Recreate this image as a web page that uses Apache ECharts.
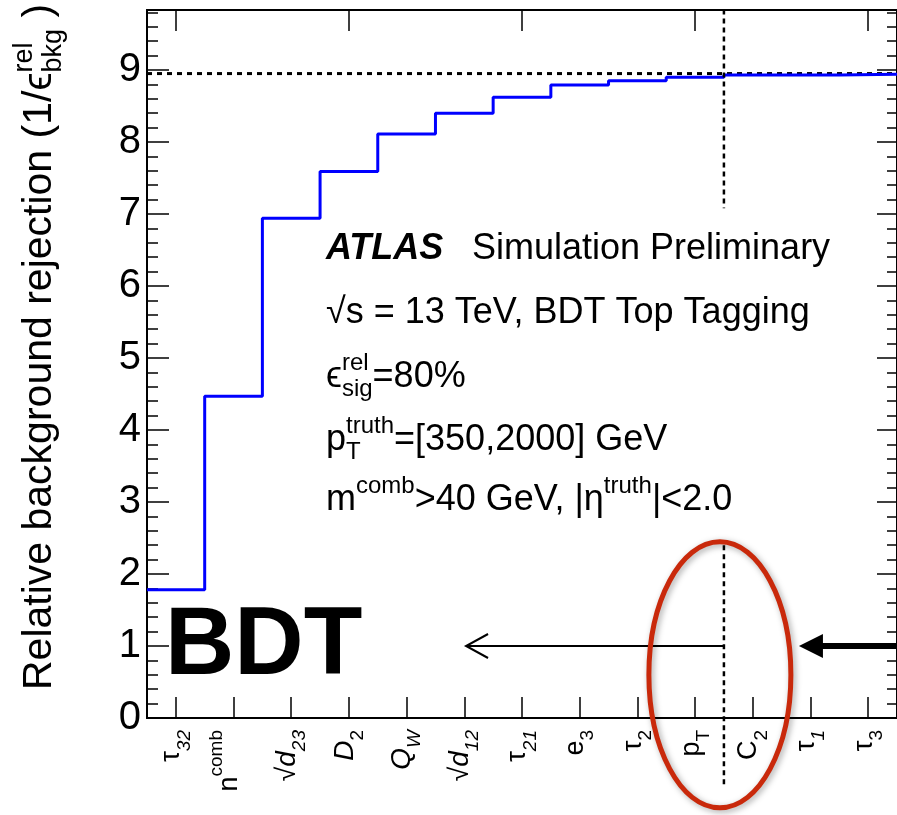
<!DOCTYPE html>
<html><head><meta charset="utf-8">
<script src="https://cdn.jsdelivr.net/npm/echarts@6/dist/echarts.min.js"></script>
<style>html,body{margin:0;padding:0;background:#fff}#c{width:897px;height:815px}</style>
</head><body><div id="c"></div>
<script>
// ---------------- data ----------------
const tickLabels = [
  '{m|τ}{subi|32}', '{m|n}{sup|comb}', '{m|√}{mi|d}{subi|23}', '{mi|D}{sub|2}',
  '{mi|Q}{subi|W}', '{m|√}{mi|d}{subi|12}', '{m|τ}{subi|21}', '{m|e}{sub|3}',
  '{m|τ}{sub|2}', '{m|p}{sub|T}', '{m|C}{sub|2}', '{m|τ}{subi|1}', '{m|τ}{sub|3}'
];
const rejection = [1.78, 4.47, 6.94, 7.59, 8.11, 8.40, 8.62, 8.79, 8.85, 8.90, 8.93, 8.93, 8.94];
const yTicks = [0, 1, 2, 3, 4, 5, 6, 7, 8, 9];
const referenceLevel = 8.95;          // dotted horizontal line
const cutEdge = 10;                   // bin edge of the dashed vertical line
const cutSegments = [[9.84, 7.08], [2.40, -0.97]];
const thinArrow = {from: [10, 1], to: [5.53, 1]};
const thickArrow = {from: [13, 1], to: [11.30, 1]};
const ellipseCenter = [9.93, 0.60];

const FAMILY = '"Liberation Sans", Arial, Helvetica, sans-serif';
const Y_MAX = 9.833;

// step histogram points from bin values
const stepPoints = rejection.map((v, i) => [i, v]);
stepPoints.push([rejection.length, rejection[rejection.length - 1]]);

const chart = echarts.init(document.getElementById('c'), null, {renderer: 'canvas'});

const labelRich = {
  m:   {fontSize: 27, lineHeight: 44, fontFamily: FAMILY, color: '#000'},
  mi:  {fontSize: 28, lineHeight: 44, fontFamily: FAMILY, color: '#000', fontStyle: 'italic'},
  sub: {fontSize: 19, lineHeight: 22, fontFamily: FAMILY, color: '#000', verticalAlign: 'bottom'},
  subi:{fontSize: 19, lineHeight: 22, fontFamily: FAMILY, color: '#000', verticalAlign: 'bottom', fontStyle: 'italic'},
  sup: {fontSize: 19, lineHeight: 22, fontFamily: FAMILY, color: '#000', verticalAlign: 'top'}
};

function yAx(pos, interval, len, labels) {
  return {
    type: 'value', position: pos, min: 0, max: Y_MAX, interval: interval,
    axisLine: {show: true, onZero: false, lineStyle: {color: '#000', width: 2}},
    axisTick: {show: true, inside: true, length: len, lineStyle: {color: '#000', width: 1.5}},
    axisLabel: labels ? {show: true, fontSize: 40, fontFamily: FAMILY, color: '#000', margin: 6,
      showMaxLabel: false, formatter: v => (yTicks.indexOf(v) >= 0 ? String(v) : '')} : {show: false},
    splitLine: {show: false}, minorTick: {show: false}, minorSplitLine: {show: false}
  };
}

chart.setOption({
  animation: false,
  backgroundColor: '#fff',
  grid: {left: 147, right: 0, top: 10, bottom: 97, containLabel: false, outerBoundsMode: 'none'},
  xAxis: [
    {type: 'value', min: 0, max: 13, show: false, position: 'bottom'},
    {type: 'category', position: 'bottom', data: tickLabels, boundaryGap: true,
      axisLine: {show: true, onZero: false, lineStyle: {color: '#000', width: 2}},
      axisTick: {show: true, inside: true, length: 21, alignWithLabel: true, lineStyle: {color: '#000', width: 1.5}},
      axisLabel: {show: true, rotate: 90, margin: 12, interval: 0, padding: [0, 0, 8, 0], rich: labelRich, formatter: v => v},
      splitLine: {show: false}},
    {type: 'category', position: 'top', data: tickLabels, boundaryGap: true,
      axisLine: {show: true, onZero: false, lineStyle: {color: '#000', width: 2}},
      axisTick: {show: true, inside: true, length: 21, alignWithLabel: true, lineStyle: {color: '#000', width: 1.5}},
      axisLabel: {show: false}, splitLine: {show: false}}
  ],
  yAxis: [
    yAx('left', 1, 22, true),
    yAx('left', 0.2, 11, false),
    yAx('right', 1, 20, false),
    yAx('right', 0.2, 10, false)
  ],
  series: [
    {type: 'line', xAxisIndex: 0, yAxisIndex: 0, silent: true, symbol: 'none', z: 3,
      data: [[0, referenceLevel], [13, referenceLevel]],
      lineStyle: {color: '#000', width: 3, type: [5, 5]}},
    {type: 'line', xAxisIndex: 0, yAxisIndex: 0, silent: true, symbol: 'none', step: 'end', z: 4,
      data: stepPoints, lineStyle: {color: '#0000ff', width: 3}},
    ...cutSegments.map(s => ({type: 'line', xAxisIndex: 0, yAxisIndex: 0, silent: true, symbol: 'none',
      clip: false, z: 5, data: [[cutEdge, s[0]], [cutEdge, s[1]]],
      lineStyle: {color: '#000', width: 2.5, type: [5, 4]}}))
  ]
});

// ---------------- annotations ----------------
const cv = document.createElement('canvas').getContext('2d');
function measure(t, size, weight, style) {
  cv.font = `${style || 'normal'} ${weight || 'normal'} ${size}px ${FAMILY}`;
  return cv.measureText(t).width;
}
function txt(x, y, t, size, weight, style) {
  return {type: 'text', x: x, y: y, silent: true, z: 20,
    style: {text: t, fontSize: size, fontFamily: FAMILY, fontWeight: weight || 'normal',
      fontStyle: style || 'normal', fill: '#000', align: 'left', verticalAlign: 'middle'}};
}
function run(x, y, parts, size) {
  const els = []; let cx = x; const small = Math.round(size * 0.66);
  parts.forEach(p => {
    if (p.sup !== undefined || p.sub !== undefined) {
      let w = 0;
      if (p.sup !== undefined) { els.push(txt(cx, y - size * 0.38, p.sup, small)); w = Math.max(w, measure(p.sup, small)); }
      if (p.sub !== undefined) { els.push(txt(cx, y + size * 0.33, p.sub, small)); w = Math.max(w, measure(p.sub, small)); }
      cx += w;
    } else {
      if (p.x !== undefined) cx = p.x;
      els.push(txt(cx, y, p.t, size, p.w, p.s));
      cx += measure(p.t, size, p.w, p.s);
    }
  });
  return els;
}

const TXT = 36;
let g = [];
g = g.concat(run(326, 249, [{t: 'ATLAS', w: 'bold', s: 'italic'}, {t: 'Simulation Preliminary', x: 472}], TXT));
g = g.concat(run(326, 313, [{t: '√s = 13 TeV, BDT Top Tagging'}], TXT));
g = g.concat(run(326, 377, [{t: 'ϵ'}, {sup: 'rel', sub: 'sig'}, {t: '=80%'}], TXT));
g = g.concat(run(326, 440, [{t: 'p'}, {sup: 'truth', sub: 'T'}, {t: '=[350,2000] GeV'}], TXT));
g = g.concat(run(326, 500, [{t: 'm'}, {sup: 'comb'}, {t: '>40 GeV, |η'}, {sup: 'truth'}, {t: '|<2.0'}], TXT));

// big BDT label
g.push({type: 'text', x: 165, y: 648, silent: true, z: 20,
  style: {text: 'BDT', fontSize: 96, fontWeight: 'bold', fontFamily: FAMILY, fill: '#000', align: 'left', verticalAlign: 'middle'}});

// y axis title (rotated)
const YT = 41;
g.push({type: 'group', x: 40, y: 690, rotation: Math.PI / 2, silent: true,
  children: run(0, 0, [{t: 'Relative background rejection (1/'}, {t: 'ϵ'}, {sup: 'rel', sub: 'bkg'}, {t: ' )'}], YT)});

// arrows and ellipse through the axes
const P = v => chart.convertToPixel({xAxisIndex: 0, yAxisIndex: 0}, v);
const ta0 = P(thinArrow.from), ta1 = P(thinArrow.to);
g.push({type: 'line', silent: true, z: 15, shape: {x1: ta0[0], y1: ta0[1], x2: ta1[0], y2: ta1[1]},
  style: {stroke: '#000', lineWidth: 2}});
g.push({type: 'polyline', silent: true, z: 15,
  shape: {points: [[ta1[0] + 22, ta1[1] - 12], ta1, [ta1[0] + 22, ta1[1] + 12]]},
  style: {stroke: '#000', lineWidth: 2, fill: null}});
const tb0 = P(thickArrow.from), tb1 = P(thickArrow.to);
g.push({type: 'line', silent: true, z: 15, shape: {x1: tb0[0], y1: tb0[1], x2: tb1[0] + 20, y2: tb1[1]},
  style: {stroke: '#000', lineWidth: 6}});
g.push({type: 'polygon', silent: true, z: 15,
  shape: {points: [tb1, [tb1[0] + 24, tb1[1] - 12], [tb1[0] + 24, tb1[1] + 12]]},
  style: {fill: '#000'}});
const ec = P(ellipseCenter);
g.push({type: 'ellipse', silent: true, z: 16, shape: {cx: ec[0], cy: ec[1], rx: 71, ry: 133},
  style: {stroke: '#c9290b', lineWidth: 5, fill: null, shadowBlur: 6, shadowColor: 'rgba(0,0,0,0.35)', shadowOffsetX: 2, shadowOffsetY: 2}});

chart.setOption({graphic: g});
</script></body></html>
